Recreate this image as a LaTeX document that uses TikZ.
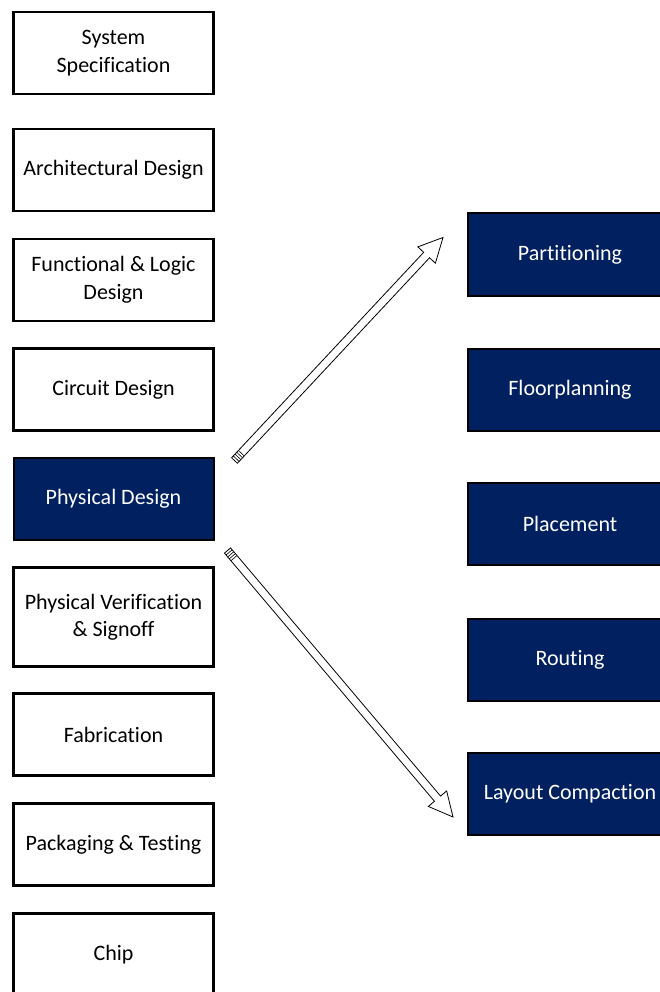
\documentclass[tikz,border=0pt]{standalone}
\usepackage{fontspec}
\setmainfont{Carlito}[Ligatures={NoCommon}]
\usetikzlibrary{calc}

\begin{document}
\begin{tikzpicture}[x=1pt, y=-1pt, font=\fontsize{22}{27.5}\selectfont,
    stage/.style={draw=black, line width=2.4pt, fill=white, text=black, align=center, minimum width=200pt, minimum height=82pt, inner sep=0pt},
    pdstage/.style={stage, fill=navy, text=white, line width=2pt},
    bigarrow/.style={draw=black, line width=0.8pt, fill=white, line join=miter}]
    \definecolor{navy}{RGB}{0, 32, 96} % Dark blue

    \clip (0, 0) rectangle (660, 992);

    % Design flow
    \node[stage] (spec) at (113.5, 53) {System\\Specification};
    \node[stage] (arch) at (113.5, 170) {Architectural Design};
    \node[stage] (logic) at (113.5, 280) {Functional \& Logic\\Design};
    \node[stage] (circ) at (113.5, 389.5) {Circuit Design};
    \node[pdstage] (pd) at (113.5, 498.5) {Physical Design};
    \node[stage, minimum height=99pt] (verif) at (113.5, 617) {Physical Verification\\\& Signoff};
    \node[stage] (fab) at (113.5, 734.5) {Fabrication};
    \node[stage] (pack) at (113.5, 844.5) {Packaging \& Testing};
    \node[stage] (chip) at (113.5, 954.5) {Chip};

    % Physical design steps
    \node[pdstage, minimum width=204pt] (part) at (570, 254.5) {Partitioning};
    \node[pdstage, minimum width=204pt] (floor) at (570, 389.5) {Floorplanning};
    \node[pdstage, minimum width=204pt] (place) at (570, 524) {Placement};
    \node[pdstage, minimum width=204pt] (route) at (570, 659.5) {Routing};
    \node[pdstage, minimum width=204pt] (comp) at (570, 794) {Layout Compaction};

    % Arrows
    \coordinate (t1) at ([shift={(20, -38)}]pd.east);
    \coordinate (h1) at ([shift={(-24, -17)}]part.west);
    \coordinate (t2) at ([shift={(13, 52)}]pd.east);
    \coordinate (h2) at ([shift={(-14, 23)}]comp.west);

    \foreach \t/\h in {t1/h1, t2/h2} {
        \coordinate (b) at ($(\h)!24pt!(\t)$);
        \draw[bigarrow] ($(\t)!4pt!90:(\h)$) -- ($(b)!4pt!90:(\h)$) -- ($(b)!12pt!90:(\h)$)
            -- (\h) -- ($(b)!12pt!-90:(\h)$) -- ($(b)!4pt!-90:(\h)$) -- ($(\t)!4pt!-90:(\h)$) -- cycle;
        % striped tail
        \foreach \d in {2.5, 5, 7.5, 10} {
            \draw[line width=0.6pt] ($(\t)!\d pt!(\h)!4pt!90:(\h)$) -- ($(\t)!\d pt!(\h)!4pt!-90:(\h)$);
        }
    }
\end{tikzpicture}
\end{document}
